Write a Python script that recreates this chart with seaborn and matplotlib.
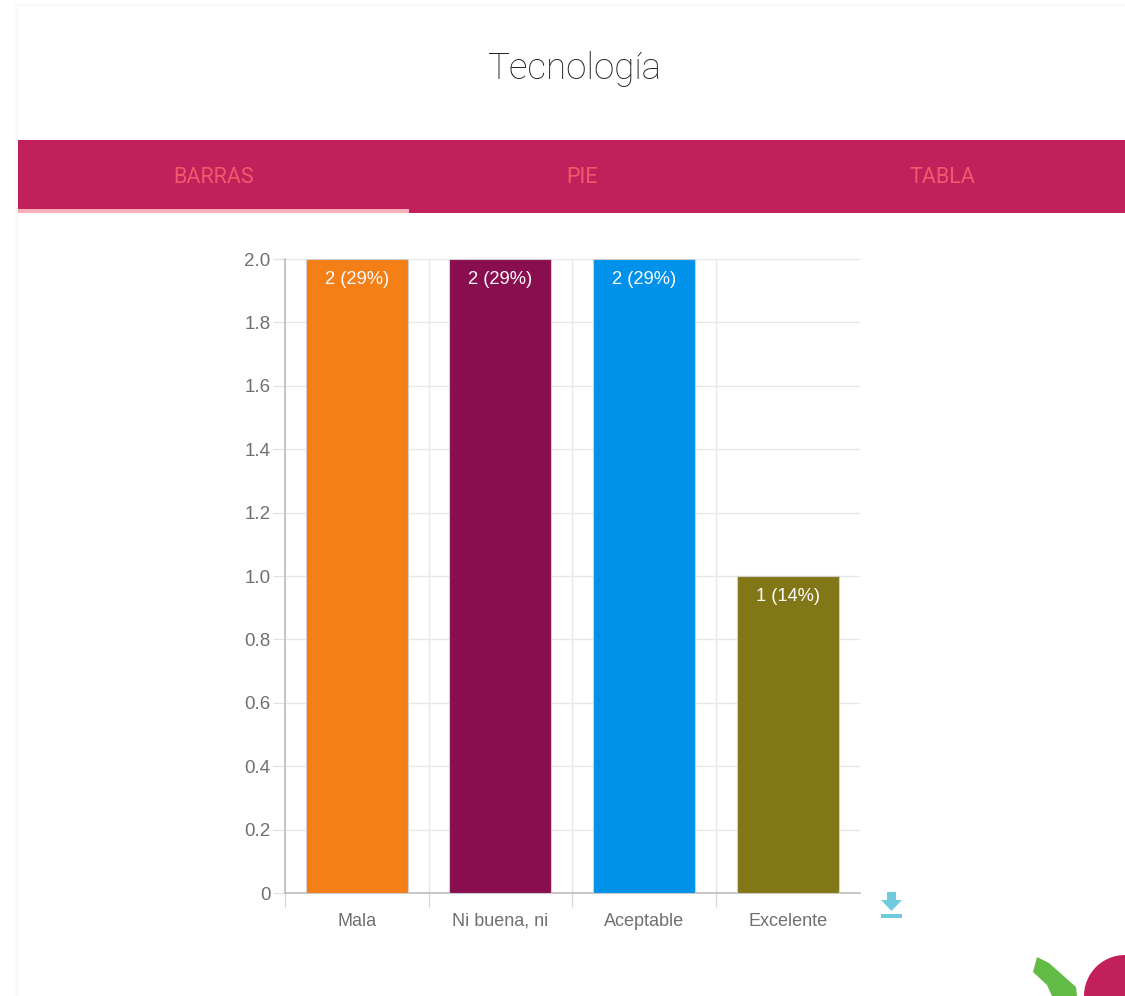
import matplotlib
matplotlib.use("Agg")
import matplotlib.pyplot as plt
from matplotlib.patches import Rectangle, Polygon, Circle
from matplotlib.ticker import FuncFormatter
import pandas as pd
import seaborn as sns

# Data
categories = ['Mala', 'Ni buena, ni', 'Aceptable', 'Excelente']
counts = [2, 2, 2, 1]
bar_labels = ['2 (29%)', '2 (29%)', '2 (29%)', '1 (14%)']
bar_colors = ['#F57F17', '#880E4F', '#0091EA', '#827717']
tabs = ['BARRAS', 'PIE', 'TABLA']
y_ticks = [0, 0.2, 0.4, 0.6, 0.8, 1.0, 1.2, 1.4, 1.6, 1.8, 2.0]

W, H = 1125, 996
CHART_FONT = ['Liberation Sans', 'DejaVu Sans']
sns.set_theme(style='white')
plt.rcParams['font.family'] = ['Roboto', 'DejaVu Sans']

fig = plt.figure(figsize=(W / 100, H / 100), dpi=100, facecolor='white')

# page furniture, in pixel coordinates
page = fig.add_axes([0, 0, 1, 1], zorder=0)
page.set_xlim(0, W)
page.set_ylim(H, 0)
page.axis('off')
page.add_patch(Rectangle((14, 2), 1111, 994, fc='#fcfcfc', ec='none'))
page.add_patch(Rectangle((17, 5), 1108, 991, fc='#f5f5f5', ec='none'))
page.add_patch(Rectangle((18, 6), 1107, 990, fc='white', ec='none'))
page.text(574, 69, 'Tecnología', fontsize=26.5, fontweight='light', color='#222222', ha='center', va='center')

page.add_patch(Rectangle((18, 140), 1107, 73, fc='#C2205A', ec='none'))
page.add_patch(Rectangle((18, 209), 391, 4, fc='#F8B0B8', ec='none'))
for label, xc in zip(tabs, [214, 582, 942]):
    page.text(xc, 177, label, fontsize=15.5, color='#EE5A6C', ha='center', va='center')

# download icon
page.add_patch(Polygon([(887, 892), (896, 892), (896, 900), (902, 900), (891.5, 911), (881, 900), (887, 900)],
                       fc='#70CBDF', ec='none'))
page.add_patch(Rectangle((881, 914), 21, 3.5, fc='#70CBDF', ec='none'))

# corner logo
page.add_patch(Polygon([(1037, 957), (1049, 963), (1076, 987), (1077, 996), (1052, 996), (1047, 985), (1033, 972)],
                       fc='#62BB46', ec='none'))
page.add_patch(Circle((1125, 996), 41, fc='#C2205A', ec='none'))

# chart
ax = fig.add_axes([285 / W, 1 - 893 / H, (859.5 - 285) / W, (893 - 259) / H], zorder=1)
ax.patch.set_alpha(0)
df = pd.DataFrame({'categoria': categories, 'valor': counts})
sns.barplot(data=df, x='categoria', y='valor', hue='categoria', order=categories, hue_order=categories,
            palette=bar_colors, legend=False, width=0.71, saturation=1, edgecolor='#cfcfcf', linewidth=0.8, ax=ax, zorder=3)

ax.set_xlim(-0.5, 3.5)
ax.set_ylim(0, 2)
ax.set_xlabel('')
ax.set_ylabel('')
ax.set_yticks(y_ticks)
ax.yaxis.set_major_formatter(FuncFormatter(lambda v, _: '0' if v == 0 else f'{v:.1f}'))
ax.set_xticks(range(len(categories)))
ax.set_xticklabels(categories)
ax.set_xticks([-0.5, 0.5, 1.5, 2.5], minor=True)

ax.grid(True, axis='y', color='#e8e8e8', linewidth=1)
ax.grid(True, axis='x', which='minor', color='#e8e8e8', linewidth=1)
ax.set_axisbelow(True)
ax.tick_params(axis='y', length=8.5, width=0.9, color='#e0e0e0', labelsize=13.5, labelcolor='#707070', pad=2, left=True)
ax.tick_params(axis='x', which='major', length=0, labelsize=13, labelcolor='#707070', pad=23.5)
ax.tick_params(axis='x', which='minor', length=10, width=0.8, color='#d4d4d4', bottom=True)
for tick_label in ax.get_yticklabels():
    tick_label.set_fontfamily(CHART_FONT)
for tick_label in ax.get_xticklabels():
    tick_label.set_fontfamily(CHART_FONT)
    tick_label.set_verticalalignment('baseline')

sns.despine(ax=ax, top=True, right=True)
ax.spines['left'].set_color('#bdbdbd')
ax.spines['left'].set_linewidth(1.2)
ax.spines['bottom'].set_color('#bdbdbd')
ax.spines['bottom'].set_linewidth(1.2)

for i, (val, lab) in enumerate(zip(counts, bar_labels)):
    ax.annotate(lab, (i, val), xytext=(0, -14.5), textcoords='offset points', ha='center', va='center',
                fontsize=13.2, family=CHART_FONT, color='#fbfbfb', zorder=5)

fig.savefig('out.png', dpi=100)
